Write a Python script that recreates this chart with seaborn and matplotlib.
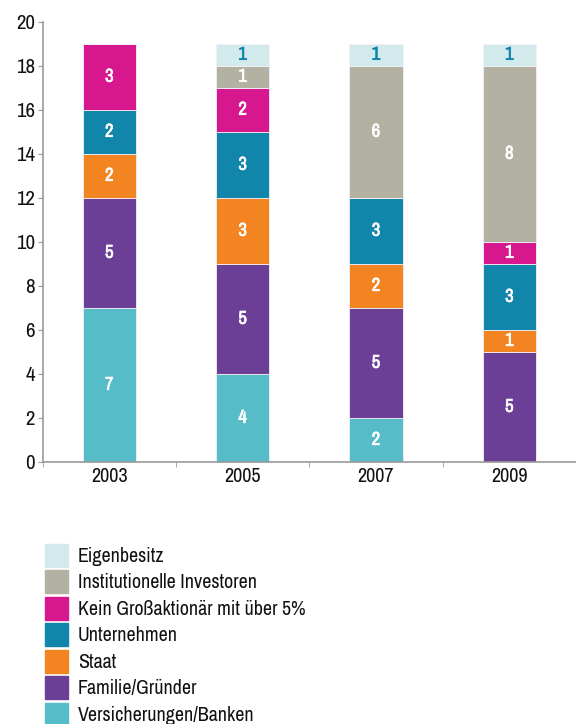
import seaborn as sns
import matplotlib.pyplot as plt
import matplotlib.patches as mpatches
import matplotlib.patheffects as pe
from matplotlib import font_manager
import numpy as np

years = ['2003', '2005', '2007', '2009']
categories = ['Versicherungen/Banken', 'Familie/Gründer', 'Staat', 'Unternehmen',
              'Kein Großaktionär mit über 5%', 'Institutionelle Investoren', 'Eigenbesitz']
versicherungen = [7, 4, 2, 0]
familie = [5, 5, 5, 5]
staat = [2, 3, 2, 1]
unternehmen = [2, 3, 3, 3]
kein_gross = [3, 2, 0, 1]
institutionelle = [0, 1, 6, 8]
eigenbesitz = [0, 1, 1, 1]
series = [versicherungen, familie, staat, unternehmen, kein_gross, institutionelle, eigenbesitz]
colors = ['#55BCC8', '#6C3F97', '#F28522', '#1185AA', '#D6178D', '#B3B2A2', '#D3EAEC']
text_colors = ['white'] * 6 + ['#1185AA']

sns.set_style('white')
# look for a narrow font, the original uses a condensed DIN-like face
installed = sorted({f.name for f in font_manager.fontManager.ttflist})
narrow = [n for n in installed if 'Condensed' in n or 'Narrow' in n]
plt.rcParams['font.family'] = narrow[:1] + ['DejaVu Sans']

fig = plt.figure(figsize=(5.76, 7.24), dpi=100)
ax = fig.add_axes([0.074, 0.362, 0.926, 0.608])

bottom = np.zeros(len(years))
for vals, col, tcol in zip(series, colors, text_colors):
    sns.barplot(x=years, y=vals, bottom=bottom, color=col, saturation=1, width=0.4,
                edgecolor='#f4f0f8', linewidth=0.6, ax=ax)
    for i, v in enumerate(vals):
        if v > 0:
            # thin stroke in same colour to fake the medium weight of the original
            ax.text(i, bottom[i] + v / 2, str(v), ha='center', va='center',
                    color=tcol, fontsize=13.5,
                    path_effects=[pe.withStroke(linewidth=0.45, foreground=tcol)])
    bottom += np.array(vals)

ax.set_ylim(0, 20)
ax.set_xlim(-0.5, 3.5)
ax.set_yticks(range(0, 21, 2))
ax.set_xticks(range(4))
ax.set_xticks([-0.5, 0.5, 1.5, 2.5, 3.5], minor=True)
ax.tick_params(axis='x', which='major', length=0, labelsize=14.5, pad=4, colors='#111111')
ax.tick_params(axis='x', which='minor', length=3.5, color='#999999', direction='out', bottom=True)
ax.tick_params(axis='y', length=3.5, color='#999999', direction='out', labelsize=15,
               left=True, pad=2, labelcolor='#111111')
for s in ['top', 'right']:
    ax.spines[s].set_visible(False)
for s in ['left', 'bottom']:
    ax.spines[s].set_color('#999999')
    ax.spines[s].set_linewidth(1.2)
ax.set_xlabel('')
ax.set_ylabel('')

handles = [mpatches.Patch(color=c, label=l) for c, l in zip(colors[::-1], categories[::-1])]
fig.legend(handles=handles, loc='upper left', bbox_to_anchor=(0.078, 0.249), frameon=False,
           fontsize=14.4, handlelength=1.15, handleheight=1.4, labelspacing=0.17,
           handletextpad=0.5, borderaxespad=0, borderpad=0, labelcolor='#111111')

fig.savefig('out.png', dpi=100, facecolor='white')
